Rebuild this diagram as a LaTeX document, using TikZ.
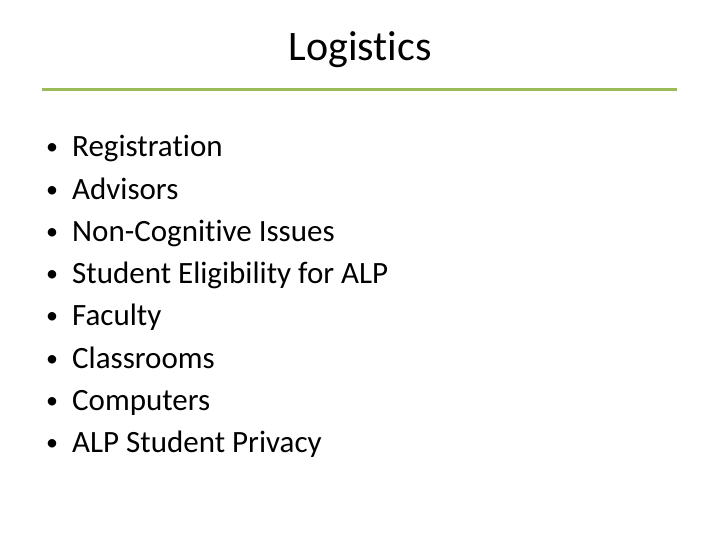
\documentclass[tikz,border=0pt]{standalone}
\usepackage{fontspec}
\setmainfont{Carlito}[Ligatures={NoCommon}]
\definecolor{accent}{HTML}{9BBB59}
\begin{document}
\begin{tikzpicture}[x=1pt,y=1pt,
  item/.style={anchor=base west,inner sep=0pt,font=\fontsize{31}{36}\selectfont},
  bul/.style={anchor=base,inner sep=0pt,font=\fontsize{24}{30}\selectfont}]
\useasboundingbox (0,0) rectangle (720,-540);
\node[anchor=base,inner sep=0pt,font=\fontsize{42}{50}\selectfont] (title) at (360,-61) {Logistics};
\coordinate (l1) at (42,-90);
\coordinate (l2) at (677,-90);
\draw[accent,line width=3pt] (l1) -- (l2);
\foreach \t [count=\i] in {Registration,Advisors,Non-Cognitive Issues,Student Eligibility for ALP,Faculty,Classrooms,Computers,ALP Student Privacy}{
  \node[bul] (b\i) at (52,{-155-42.2*(\i-1)}) {•};
  \node[item] (t\i) at (72,{-157-42.2*(\i-1)}) {\t};
}
\end{tikzpicture}
\end{document}
